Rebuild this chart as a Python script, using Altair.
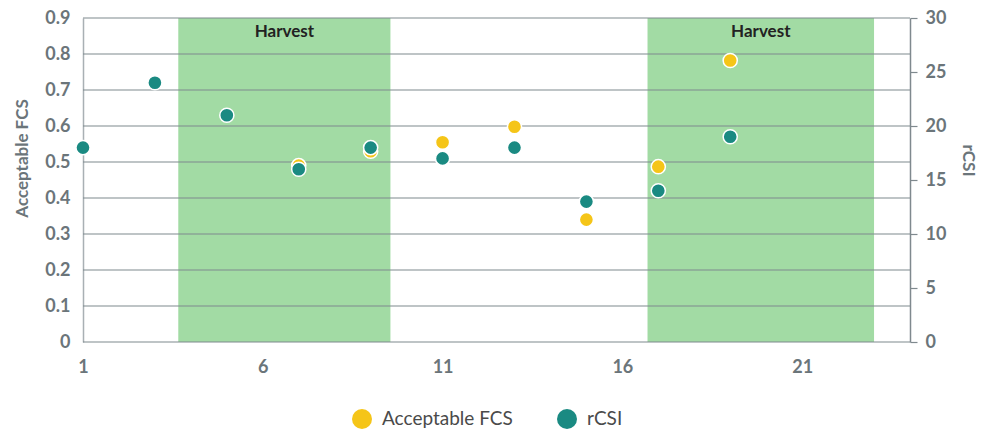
import altair as alt
import pandas as pd

# ---- data ----
weeks = [1, 3, 5, 7, 9, 11, 13, 15, 17, 19]
fcs_values = [None, None, None, 0.49, 0.53, 0.555, 0.598, 0.34, 0.487, 0.782]
rcsi_values = [18, 24, 21, 16, 18, 17, 18, 13, 14, 19]

band_start = [3.65, 16.7]
band_end = [9.55, 23.0]
band_label = ["Harvest", "Harvest"]

x_ticks = [1, 6, 11, 16, 21]
fcs_ticks = [0, 0.1, 0.2, 0.3, 0.4, 0.5, 0.6, 0.7, 0.8, 0.9]
rcsi_ticks = [0, 5, 10, 15, 20, 25, 30]

series_names = ["Acceptable FCS", "rCSI"]
series_colors = ["#F5C518", "#1A8A82"]

# ---- tables ----
fcs_df = pd.DataFrame({"week": weeks, "value": fcs_values, "series": "Acceptable FCS"}).dropna()
rcsi_df = pd.DataFrame({"week": weeks, "value": rcsi_values, "series": "rCSI"})
band_df = pd.DataFrame({"week": band_start, "end": band_end, "label": band_label})
band_df["mid"] = (band_df["week"] + band_df["end"]) / 2
grid_df = pd.DataFrame({"g": fcs_ticks})

W, H = 827, 324
FONT = "Lato"
LABEL_COLOR = "#6b757a"
GRID_COLOR = "#7f898e"

xscale = alt.Scale(domain=[1, 24], nice=False, zero=False)
xaxis = alt.Axis(values=x_ticks, title=None, grid=False, ticks=False, domain=False,
                 labelFont=FONT, labelFontSize=18, labelFontWeight="bold",
                 labelColor=LABEL_COLOR, labelPadding=16, labelFlush=False)
xenc = alt.X("week:Q", scale=xscale, axis=xaxis)

color = alt.Color("series:N",
                  scale=alt.Scale(domain=series_names, range=series_colors),
                  legend=alt.Legend(title=None, orient="none", direction="horizontal",
                                    legendX=269, legendY=391,
                                    symbolType="circle", symbolSize=400, symbolStrokeWidth=0,
                                    labelFont=FONT, labelFontSize=19, labelColor="#4a4a4a",
                                    columnPadding=44, labelOffset=10, padding=0))

bands = alt.Chart(band_df).mark_rect(color="#A2DBA4").encode(
    x=alt.X("week:Q", scale=xscale, axis=xaxis),
    x2="end:Q",
    y=alt.value(0),
    y2=alt.value(H),
)

band_text = alt.Chart(band_df).mark_text(
    font=FONT, fontSize=17, fontWeight="bold", color="#222222", baseline="middle"
).encode(
    x=alt.X("mid:Q", scale=xscale, axis=xaxis),
    y=alt.value(14),
    text="label:N",
)

grid = alt.Chart(grid_df).mark_rule(color=GRID_COLOR, strokeWidth=1.2).encode(
    y=alt.Y("g:Q", scale=alt.Scale(domain=[0, 0.9], nice=False), axis=None),
    x=alt.value(0),
    x2=alt.value(W),
)

fcs_layer = alt.Chart(fcs_df).mark_point(
    filled=True, opacity=1, stroke="white", strokeWidth=1.5, size=200
).encode(
    x=xenc,
    y=alt.Y("value:Q", scale=alt.Scale(domain=[0, 0.9], nice=False),
            axis=alt.Axis(orient="left", values=fcs_ticks, grid=False, ticks=False,
                          domain=True, domainColor="#a9b0b4", domainWidth=1.5,
                          title="Acceptable FCS", titleFont=FONT, titleFontSize=17,
                          titleFontWeight="bold", titleColor=LABEL_COLOR,
                          titleX=-61, titleY=140, titleAngle=-90, titleBaseline="middle",
                          titleAlign="center",
                          labelFont=FONT, labelFontSize=18, labelFontWeight="bold",
                          labelColor=LABEL_COLOR, labelPadding=13, labelFlush=False,
                          format="~g")),
    color=color,
)

rcsi_layer = alt.Chart(rcsi_df).mark_point(
    filled=True, opacity=1, stroke="white", strokeWidth=1.5, size=200
).encode(
    x=xenc,
    y=alt.Y("value:Q", scale=alt.Scale(domain=[0, 30], nice=False),
            axis=alt.Axis(orient="right", values=rcsi_ticks, grid=False, ticks=True,
                          tickSize=7, tickColor=GRID_COLOR, tickWidth=1.2,
                          domain=True, domainColor=GRID_COLOR, domainWidth=1.5,
                          title="rCSI", titleFont=FONT, titleFontSize=17,
                          titleFontWeight="bold", titleColor=LABEL_COLOR,
                          titleX=57, titleY=142, titleAngle=90, titleBaseline="middle",
                          titleAlign="center",
                          labelFont=FONT, labelFontSize=18, labelFontWeight="bold",
                          labelColor=LABEL_COLOR, labelPadding=8, labelFlush=False)),
    color=color,
)

chart = alt.layer(bands, band_text, grid, fcs_layer, rcsi_layer).resolve_scale(
    y="independent"
).properties(
    width=W, height=H,
    autosize=alt.AutoSizeParams(type="none"),
    padding={"left": 75, "top": 10, "right": 68, "bottom": 87},
).configure_view(stroke=None)

chart.save("out.html", embed_options={"renderer": "svg", "actions": False})
